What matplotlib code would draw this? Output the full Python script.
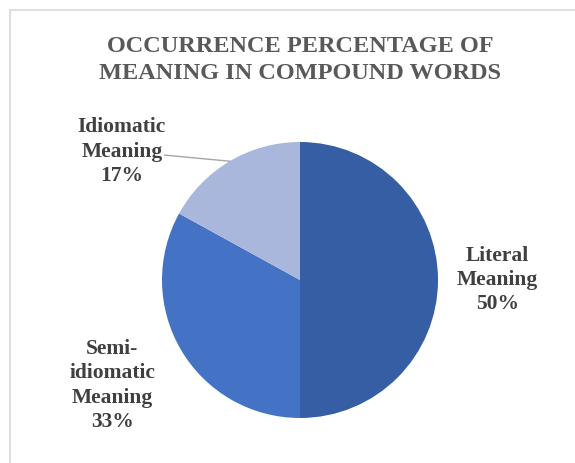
import numpy as np
import matplotlib.pyplot as plt
from matplotlib.lines import Line2D

# data
labels = ['Literal\nMeaning', 'Semi-\nidiomatic\nMeaning', 'Idiomatic\nMeaning']
values = [50, 33, 17]
colors = ['#355EA4', '#4472C4', '#A9B7DC']
title = 'OCCURRENCE PERCENTAGE OF\nMEANING IN COMPOUND WORDS'

W, H = 575, 463
cx, cy, r = 300, 280, 138  # pie centre / radius in pixels

plt.rcParams['font.family'] = ['Liberation Serif', 'DejaVu Serif']

fig = plt.figure(figsize=(W / 100, H / 100), dpi=100)
ax = fig.add_axes([0, 0, 1, 1])

wedges, _ = ax.pie(values, colors=colors, startangle=90, counterclock=False,
                   radius=1, wedgeprops=dict(linewidth=0))
ax.set_xlim(-cx / r, (W - cx) / r)
ax.set_ylim(-(H - cy) / r, cy / r)
ax.set_aspect('equal', adjustable='box')
ax.axis('off')

# data labels
label_pos = [(1.43, 0.0), (-1.36, -0.765), (-1.29, 0.93)]
total = sum(values)
for w, lab, v, (lx, ly) in zip(wedges, labels, values, label_pos):
    txt = f'{lab}\n{round(100 * v / total)}%'
    ax.text(lx, ly, txt, ha='center', va='center', fontsize=15.5,
            fontweight='bold', color='#404040', linespacing=1.28)

# leader line for the small slice
w = wedges[2]
mid = np.deg2rad((w.theta1 + w.theta2) / 2)
ax.plot([-0.98, np.cos(mid)], [0.905, np.sin(mid)], color='#A6A6A6', lw=1)

fig.text(cx / W, 1 - 60 / H, title, ha='center', va='center', fontsize=17.5,
         fontweight='bold', color='#595959', linespacing=1.42)

# chart frame
fig.add_artist(Line2D([10 / W, 10 / W], [0, 1 - 10 / H], transform=fig.transFigure,
                      color='#D9D9D9', lw=1.2))
fig.add_artist(Line2D([10 / W, 1], [1 - 10 / H, 1 - 10 / H], transform=fig.transFigure,
                      color='#D9D9D9', lw=1.2))

fig.savefig('out.png', dpi=100)
